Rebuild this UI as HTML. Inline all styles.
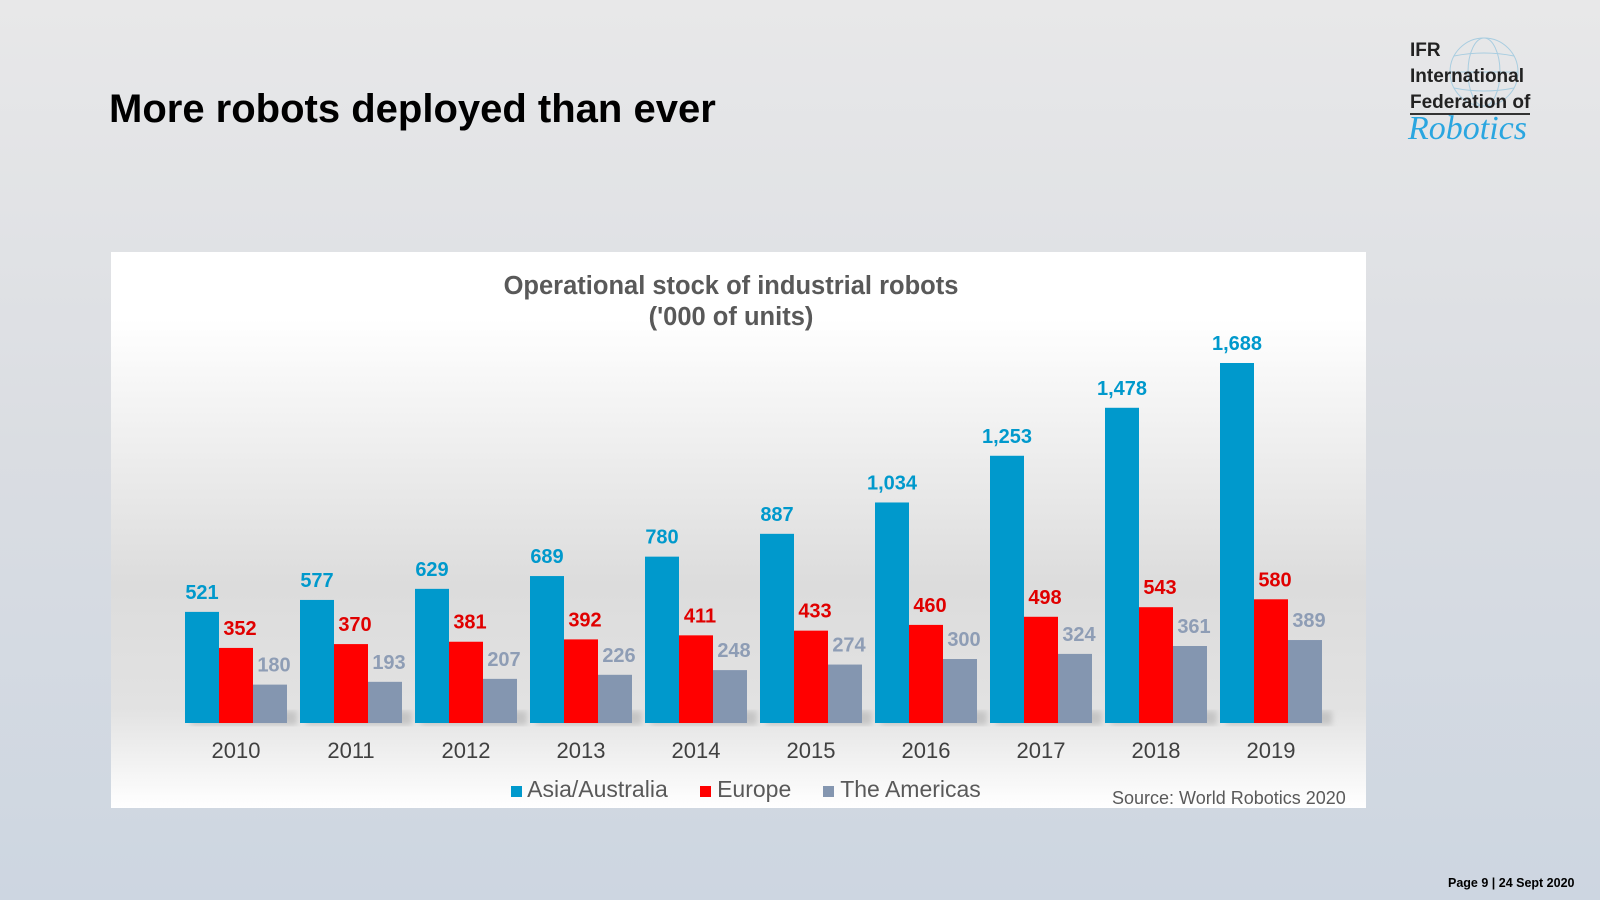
<!DOCTYPE html>
<html><head><meta charset="utf-8"><style>
body{margin:0;width:1600px;height:900px;overflow:hidden;background:linear-gradient(#e8e8e9,#dadde2 50%,#cdd6e1);font-family:"Liberation Sans",Arial,sans-serif;position:relative}
.t{position:absolute;white-space:nowrap}
</style></head><body>
<div class="t" style="left:109px;top:87px;font-size:40px;font-weight:bold;color:#000">More robots deployed than ever</div>
<div style="position:absolute;left:1398px;top:30px;width:170px;height:130px">
<svg width="170" height="130" style="position:absolute;left:0;top:0"><g fill="none" stroke="#a8cde0" stroke-width="1"><circle cx="86" cy="42" r="34"/><ellipse cx="86" cy="42" rx="16" ry="34"/><line x1="52" y1="42" x2="120" y2="42"/><path d="M56 26 Q86 20 116 26 M56 58 Q86 64 116 58"/></g></svg>
<div class="t" style="left:12px;top:8px;font-size:19px;font-weight:bold;line-height:26px;color:#222">IFR<br>International<br><span style="border-bottom:2px solid #333">Federation of</span></div>
<div class="t" style="left:10px;top:80px;font-size:34px;font-style:italic;color:#2aa6e0;font-family:'Liberation Serif',serif">Robotics</div>
</div>
<div style="position:absolute;left:111px;top:252px;width:1255px;height:556px;background:linear-gradient(#fff 0%,#fff 12%,#dcdcdc 60%,#e2e2e2 82%,#fff 100%)"></div>
<div class="t" style="left:431px;top:271px;width:600px;text-align:center;font-size:25.5px;font-weight:bold;color:#595959;line-height:31px">Operational stock of industrial robots<br>('000 of units)</div>
<svg id="c" width="1600" height="900" style="position:absolute;left:0;top:0"><defs><filter id="bl"><feGaussianBlur stdDeviation="3"/></filter></defs></svg>
<div class="t" style="left:511px;top:776px;font-size:23px;color:#595959">
<span><span style="display:inline-block;width:11px;height:11px;background:#0099cc"></span> Asia/Australia</span>&nbsp;&nbsp;&nbsp;&nbsp;
<span><span style="display:inline-block;width:11px;height:11px;background:#ff0000"></span> Europe</span>&nbsp;&nbsp;&nbsp;&nbsp;
<span><span style="display:inline-block;width:11px;height:11px;background:#8496b0"></span> The Americas</span></div>
<div class="t" style="left:1112px;top:788px;font-size:18px;color:#595959">Source: World Robotics 2020</div>
<div class="t" style="left:1448px;top:876px;font-size:12.5px;font-weight:bold;color:#000">Page 9 | 24 Sept 2020</div>
<script>
const years=["2010","2011","2012","2013","2014","2015","2016","2017","2018","2019"];
const asia=[521,577,629,689,780,887,1034,1253,1478,1688];
const europe=[352,370,381,392,411,433,460,498,543,580];
const americas=[180,193,207,226,248,274,300,324,361,389];
const series=[{n:"asia",v:asia,c:"#0099cc",l:"#0099cc",lab:v=>v.toLocaleString("en-US")},{n:"europe",v:europe,c:"#ff0000",l:"#e00000",lab:v=>v},{n:"americas",v:americas,c:"#8496b0",l:"#8e9db5",lab:v=>v}];
const svg=document.getElementById('c');const NS="http://www.w3.org/2000/svg";
const base=723,k=360/1688,x0=185,pitch=115,bw=34;
const y=v=>base-v*k;
function mk(t,a){const e=document.createElementNS(NS,t);for(const q in a)e.setAttribute(q,a[q]);svg.appendChild(e);return e;}
years.forEach((yr,i)=>{
 const gx=x0+i*pitch;
 const sh=mk('rect',{x:gx+6,y:base-12,width:3*bw+4,height:14,fill:'#b8b8b8',opacity:0.7,filter:'url(#bl)'});
 
 
 series.forEach((s,j)=>{
  const v=s.v[i];
  const r=mk('rect',{x:gx+j*bw,y:y(v),width:bw,height:v*k,fill:s.c});
  
  
  const t=mk('text',{x:gx+j*bw+bw/2+(j==0?0:4),y:y(v)-13,'text-anchor':'middle','font-size':20,'font-weight':'bold',fill:s.l,'font-family':'Liberation Sans, Arial, sans-serif'});
  t.textContent=s.lab(v);
  
  
 });
 const t=mk('text',{x:gx+1.5*bw,y:758,'text-anchor':'middle','font-size':22,fill:'#404040','font-family':'Liberation Sans, Arial, sans-serif'});
 t.textContent=yr;
 
 
});
</script>
</body></html>
